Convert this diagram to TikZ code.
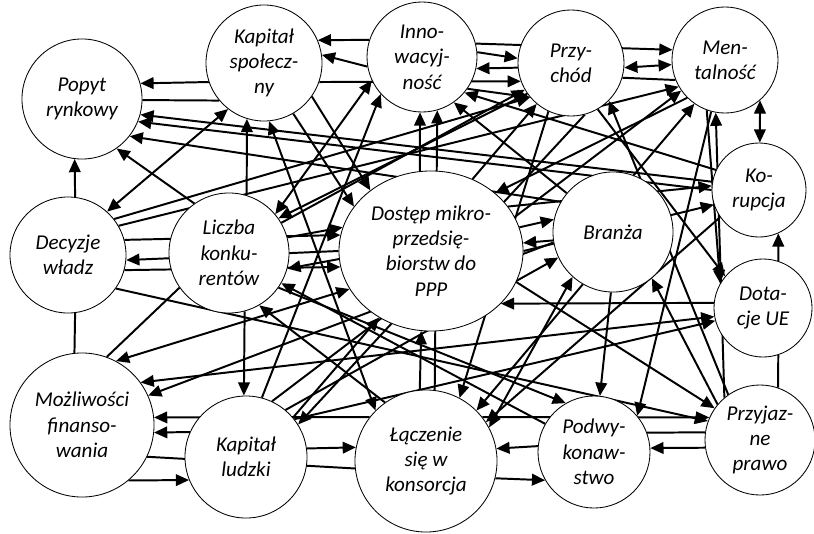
\documentclass[tikz,border=0pt]{standalone}
\usepackage{fontspec}
\setmainfont{Carlito}[ItalicFont={Carlito Italic}]
\usetikzlibrary{arrows.meta,shapes.geometric}
\pgfdeclarelayer{bg}
\pgfsetlayers{bg,main}

\begin{document}
\begin{tikzpicture}[x=0.025cm,y=-0.025cm,
        bubble/.style={circle,draw,fill=white,line width=0.6pt,inner sep=0pt,align=center,font=\fontsize{15}{18}\selectfont\itshape},
        arr/.style={-{Triangle[length=0.33cm,width=0.29cm]}},
        both/.style={{Triangle[length=0.33cm,width=0.29cm]}-{Triangle[length=0.33cm,width=0.29cm]}}]
    \useasboundingbox (0,0) rectangle (814,533);
    \node[bubble,minimum size=3cm] (pop) at (82,99) {Popyt\\rynkowy};
    \node[bubble,minimum size=2.9cm] (ks) at (264,63) {Kapitał\\społecz-\\ny};
    \node[bubble,minimum size=2.75cm] (inn) at (422,57) {Inno-\\wacyj-\\ność};
    \node[bubble,minimum size=2.65cm] (prz) at (571,63) {Przy-\\chód};
    \node[bubble,minimum size=2.65cm] (men) at (725,60) {Men-\\talność};
    \node[bubble,minimum size=2.35cm] (kor) at (759,190) {Ko-\\rupcja};
    \node[bubble,minimum size=3cm] (bra) at (613,232) {Branża};
    \node[bubble,ellipse,minimum width=4.6cm,minimum height=4cm] (dos) at (431,251) {Dostęp mikro-\\przedsię-\\biorstw do\\PPP};
    \node[bubble,minimum size=2.45cm] (dot) at (763,308) {Dota-\\cje UE};
    \node[bubble,minimum size=2.75cm] (pra) at (760,440) {Przyjaz-\\ne\\prawo};
    \node[bubble,minimum size=2.8cm] (pod) at (594,452) {Podwy-\\konaw-\\stwo};
    \node[bubble,minimum size=3.55cm] (lac) at (426,461) {Łączenie\\się w\\konsorcja};
    \node[bubble,minimum size=3.05cm] (kl) at (246,457) {Kapitał\\ludzki};
    \node[bubble,minimum size=3.6cm] (mf) at (82,425) {Możliwości\\finanso-\\wania};
    \node[bubble,minimum size=2.9cm] (dec) at (68,255) {Decyzje\\władz};
    \node[bubble,minimum size=3cm] (lk) at (229,253) {Liczba\\konku-\\rentów};
    \begin{pgfonlayer}{bg}
    \begin{scope}[line width=1.4pt]
        \draw (mf.96) -- (dec.-83);
        \draw (pop.-1) -- (ks.220);
        \draw (lk.-145) -- (mf.70);
        \draw (mf.-26) -- (lac.186);
        \draw (prz.-16) -- (men.202);
        \draw (dot.-72) -- (pra.71);
        \draw (pra.172) -- (pod.20);
        \draw[arr] (dec.83) -- (pop.-97);
        \draw[arr] (ks.199) -- (pop.15);
        \draw[arr] (kor.170) -- (pop.-15);
        \draw[arr] (kor.180) -- (pop.-22);
        \draw[arr] (bra.150) -- (pop.-38);
        \draw[arr] (lk.125) -- (pop.-55);
        \draw[arr] (inn.162) -- (ks.23);
        \draw[arr] (inn.190) -- (ks.8);
        \draw[arr] (lk.73) -- (ks.-107);
        \draw[arr] (prz.215) -- (lk.35);
        \draw[arr] (dec.15) -- (dos.170);
        \draw[arr] (dos.180) -- (dec.-5);
        \draw[arr] (dec.-15) -- (dos.190);
        \draw[arr] (lk.15) -- (dos.165);
        \draw[arr] (dos.185) -- (lk.-15);
        \draw[arr] (dec.-35) -- (pra.160);
        \draw[arr] (bra.190) -- (mf.24);
        \draw[arr] (lac.142) -- (mf.6);
        \draw[arr] (kl.156) -- (mf.-6);
        \draw[arr] (mf.-50) -- (kl.202);
        \draw[arr] (kl.8) -- (lac.169);
        \draw[arr] (lk.-75) -- (kl.92);
        \draw[arr] (kl.75) -- (inn.222);
        \draw[arr] (kl.40) -- (dos.232);
        \draw[arr] (prz.-75) -- (kl.32);
        \draw[arr] (kl.50) -- (bra.205);
        \draw[arr] (kl.38) -- (dot.195);
        \draw[arr] (inn.14) -- (men.169);
        \draw[arr] (inn.5) -- (prz.175);
        \draw[arr] (prz.185) -- (inn.-12);
        \draw[arr] (ks.-19) -- (prz.200);
        \draw[arr] (inn.-35) -- (prz.220);
        \draw[arr] (dot.72) -- (kor.-66);
        \draw[arr] (pra.188) -- (pod.4);
        \draw[arr] (pod.174) -- (lac.10);
        \draw[arr] (lac.-14) -- (pod.210);
        \draw[arr] (lac.38) -- (pra.156);
        \draw[arr] (dot.174) -- (dos.-37);
        \draw[arr] (bra.-92) -- (pod.84);
        \draw[arr] (men.-105) -- (pod.40);
        \draw[arr] (lk.-35) -- (pod.120);
        \draw[arr] (bra.-120) -- (lac.45);
        \draw[arr] (prz.-115) -- (lac.62);
        \draw[arr] (kor.215) -- (lac.33);
        \draw[arr] (dos.98) -- (inn.-92);
        \draw[arr] (lac.83) -- (inn.-74);
        \draw[arr] (lac.95) -- (dos.-97);
        \draw[arr] (bra.140) -- (inn.-55);
        \draw[arr] (kor.155) -- (inn.-40);
        \draw[arr] (dos.60) -- (prz.-130);
        \draw[arr] (lk.30) -- (prz.-150);
        \draw[arr] (dec.30) -- (men.-150);
        \draw[arr] (dec.38) -- (prz.-140);
        \draw[arr] (men.-135) -- (dos.42);
        \draw[arr] (bra.70) -- (men.-125);
        \draw[arr] (pra.130) -- (men.-100);
        \draw[arr] (dos.30) -- (kor.175);
        \draw[arr] (dos.0) -- (kor.198);
        \draw[arr] (pra.140) -- (bra.-50);
        \draw[arr] (dos.-20) -- (pra.145);
        \draw[arr] (prz.-60) -- (dot.140);
        \draw[arr] (men.-110) -- (dot.150);
        \draw[arr] (pra.125) -- (prz.-45);
        \draw[arr] (dos.15) -- (bra.168);
        \draw[arr] (bra.188) -- (dos.5);
        \draw[arr] (lac.125) -- (lk.-60);
        \draw[arr] (pod.150) -- (lk.-30);
        \draw[arr] (ks.-35) -- (dos.135);
        \draw[arr] (ks.-60) -- (dos.150);
        \draw[arr] (kl.65) -- (men.-145);
        \draw[both] (ks.232) -- (dec.48);
        \draw[both] (lk.40) -- (inn.205);
        \draw[both] (mf.62) -- (dos.205);
        \draw[both] (mf.36) -- (dot.190);
        \draw[both] (prz.-5) -- (men.185);
        \draw[both] (men.-49) -- (kor.89);
        \draw[both] (lac.28) -- (bra.-132);
        \draw[both] (ks.-85) -- (lac.135);
    \end{scope}
    \end{pgfonlayer}
\end{tikzpicture}
\end{document}
